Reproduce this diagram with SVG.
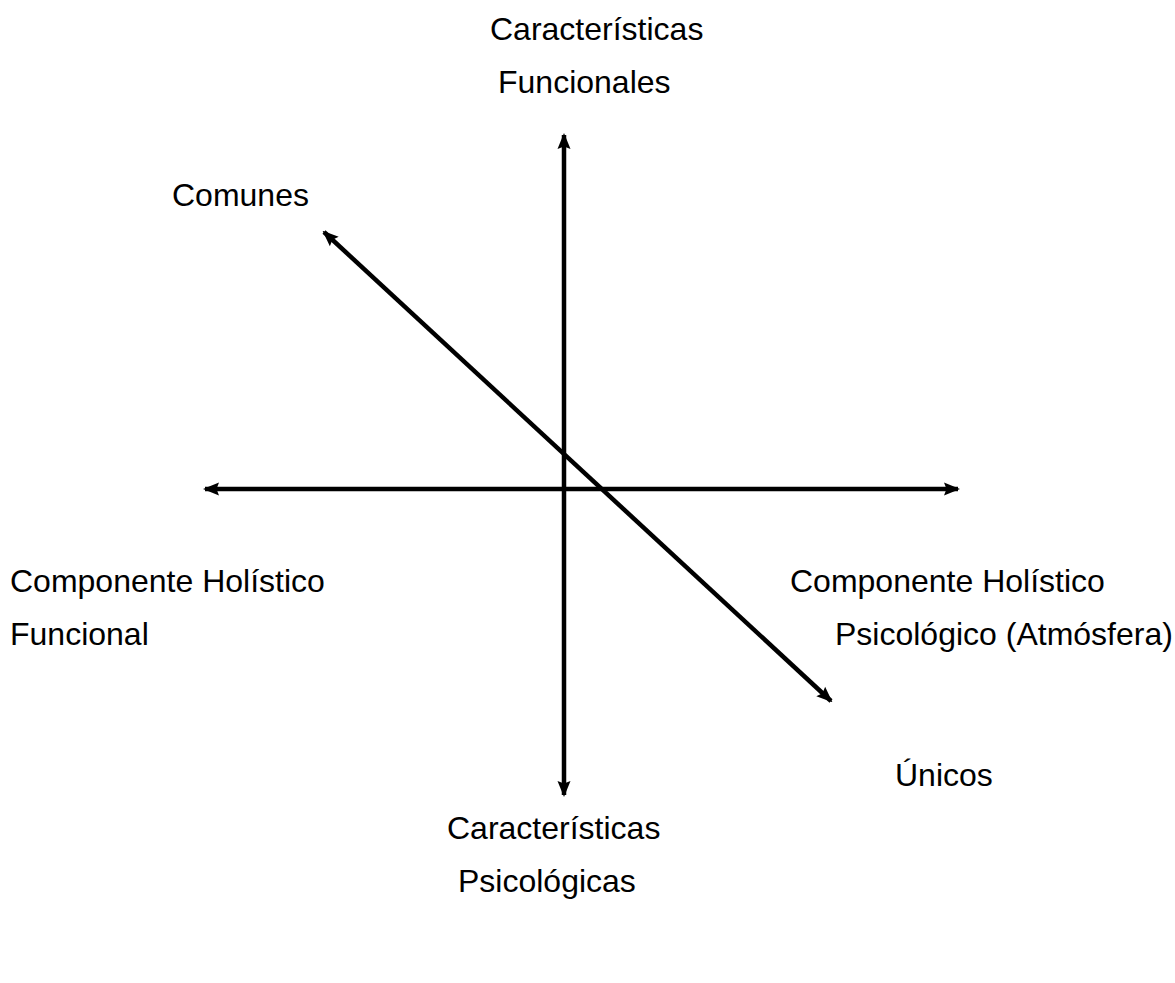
<svg xmlns="http://www.w3.org/2000/svg" width="1175" height="983" viewBox="0 0 1175 983">
  <style>
    .lbl { font-family: "Liberation Sans", Arial, sans-serif; font-size: 32px; fill: #000; }
    .axis { stroke: #000; stroke-width: 4.5; fill: none; }
  </style>
  <defs>
    <marker id="head" viewBox="0 0 16 16" refX="14" refY="8" markerWidth="16" markerHeight="16" markerUnits="userSpaceOnUse" orient="auto-start-reverse">
      <path d="M0,1.5 L16,8 L0,14.5 L2.5,8 z" fill="#000"/>
    </marker>
  </defs>
  <rect width="1175" height="983" fill="#fff"/>

  <!-- axes, double-headed -->
  <g id="connectors">
    <line class="axis" x1="564" y1="135" x2="564" y2="795" marker-start="url(#head)" marker-end="url(#head)"/>
    <line class="axis" x1="205" y1="489" x2="958" y2="489" marker-start="url(#head)" marker-end="url(#head)"/>
    <line class="axis" x1="324" y1="232" x2="831" y2="701" marker-start="url(#head)" marker-end="url(#head)"/>
  </g>

  <g id="top-label">
    <text class="lbl" x="490" y="40">Características</text>
    <text class="lbl" x="498" y="93">Funcionales</text>
  </g>
  <g id="comunes">
    <text class="lbl" x="172" y="206">Comunes</text>
  </g>
  <g id="left-label">
    <text class="lbl" x="10" y="592">Componente Holístico</text>
    <text class="lbl" x="10" y="645">Funcional</text>
  </g>
  <g id="right-label">
    <text class="lbl" x="790" y="592">Componente Holístico</text>
    <text class="lbl" x="835" y="645">Psicológico (Atmósfera)</text>
  </g>
  <g id="unicos">
    <text class="lbl" x="895" y="786">Únicos</text>
  </g>
  <g id="bottom-label">
    <text class="lbl" x="447" y="839">Características</text>
    <text class="lbl" x="458" y="892">Psicológicas</text>
  </g>
</svg>
